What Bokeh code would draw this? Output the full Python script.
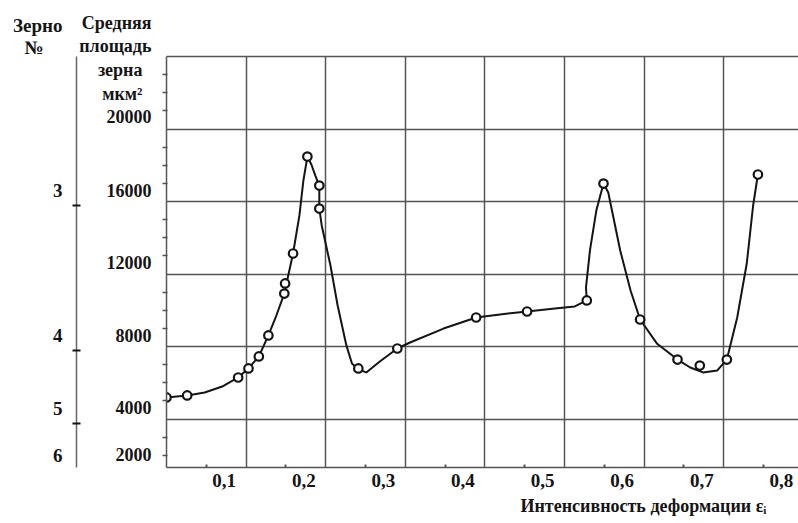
from bokeh.plotting import figure
from bokeh.models import Range1d, FixedTicker, LinearAxis, CustomJSTickFormatter, Title
from bokeh.embed import file_html
from bokeh.resources import INLINE

# ---- data ----
# measured points: strain intensity vs mean grain area (um^2)
strain_pts = [0.000, 0.026, 0.090, 0.103, 0.116, 0.128, 0.148, 0.149, 0.159, 0.177,
              0.192, 0.192, 0.241, 0.290, 0.389, 0.453, 0.528, 0.549, 0.595, 0.642,
              0.670, 0.704, 0.743]
area_pts = [5190, 5300, 6290, 6790, 7450, 8610, 10920, 11480, 13130, 18480,
            16880, 15610, 6790, 7890, 9600, 9930, 10540, 16990, 9490, 7280,
            6950, 7280, 17490]

# hand-drawn curve through the points
curve_strain = [0.000, 0.026, 0.048, 0.070, 0.090, 0.103, 0.116, 0.128, 0.138, 0.148,
                0.159, 0.167, 0.172, 0.177, 0.182, 0.187, 0.192, 0.192, 0.195, 0.206,
                0.215, 0.226, 0.233, 0.241, 0.251, 0.268, 0.290, 0.306, 0.348, 0.389,
                0.419, 0.453, 0.488, 0.513, 0.528, 0.527, 0.532, 0.540, 0.549, 0.555,
                0.570, 0.583, 0.595, 0.616, 0.642, 0.658, 0.674, 0.692, 0.704, 0.717,
                0.729, 0.737, 0.743]
curve_area = [5190, 5300, 5460, 5790, 6290, 6790, 7450, 8610, 9710, 10920,
              13130, 15230, 17160, 18480, 18040, 17430, 16880, 15610, 14680, 12470,
              10260, 8060, 7060, 6730, 6570, 7170, 7890, 8220, 8990, 9600,
              9770, 9930, 10100, 10210, 10540, 11260, 13300, 15500, 16990, 16500,
              13300, 11090, 9490, 8170, 7280, 6840, 6570, 6680, 7280, 9600,
              12580, 15780, 17490]

# axis ticks and labels
strain_ticks = [0.1, 0.2, 0.3, 0.4, 0.5, 0.6, 0.7, 0.8]
strain_tick_labels = ["0,1", "0,2", "0,3", "0,4", "0,5", "0,6", "0,7", "0,8"]
area_ticks = [2000, 4000, 8000, 12000, 16000, 20000]
area_tick_labels = ["2000", "4000", "8000", "12000", "16000", "20000"]
area_title_lines = ["Средняя", "площадь", "зерна", "мкм²"]
grain_numbers = ["3", "4", "5", "6"]
grain_areas = [16000, 8000, 4000, 2000]
grain_title_lines = ["Зерно", "№"]
x_title = "Интенсивность деформации εᵢ"

# ---- styling ----
FONT = "Liberation Serif"
INK = "#141414"
GRID = "#555555"
NB = "\u00a0"

# frame: x 166..798 px, y 56..467 px; 72.5 px per 4000 um^2
PX_PER_Y = 72.5 / 4000.0


def ay(py):
    return (491.0 - py) / PX_PER_Y


# printed labels sit a little above their grid lines in the original
shift = lambda a: a + (600 if a >= 4000 else 0)
area_label_pos = [shift(a) for a in area_ticks[:-1]]
area_labels = list(area_tick_labels[:-1])
# the top label carries the scale title stacked above it
area_label_pos.append(round(ay(69.5)))
area_labels.append("\n".join([area_title_lines[0], area_title_lines[1],
                              area_title_lines[2] + NB * 2, area_title_lines[3] + NB * 2,
                              area_tick_labels[-1]]))

strain_label_pos = [round(t - 0.0275, 4) for t in strain_ticks]

grain_label_pos = [shift(a) for a in grain_areas]
grain_mark_pos = [pos - 830 for pos in grain_label_pos[:3]]
grain_labels = list(grain_numbers)
grain_label_pos.append(round(ay(58)))
grain_labels.append("\n".join([grain_title_lines[0], grain_title_lines[1] + NB * 4, "", ""]))

NEAREST = """
let best = 0;
for (let i = 0; i < pos.length; i++) {
  if (Math.abs(pos[i] - tick) < Math.abs(pos[best] - tick)) best = i;
}
return labels[best];
"""

p = figure(width=798, height=523,
           x_range=Range1d(0, 0.794), y_range=Range1d(ay(467), ay(56)),
           output_backend="svg", toolbar_location=None,
           min_border_left=166, min_border_right=0,
           min_border_top=56, min_border_bottom=56)
p.outline_line_color = None
p.background_fill_color = "white"
p.border_fill_color = "white"

# grid
p.xgrid.ticker = FixedTicker(ticks=[t for t in strain_ticks if t < 0.79])
p.ygrid.ticker = FixedTicker(ticks=[a for a in area_ticks if a >= 4000])
p.grid.grid_line_color = GRID
p.grid.grid_line_width = 1.5

# x axis
xa = p.xaxis[0]
xa.ticker = FixedTicker(ticks=strain_label_pos,
                        minor_ticks=[round(t - 0.05, 2) for t in strain_ticks])
xa.formatter = CustomJSTickFormatter(args=dict(pos=strain_label_pos, labels=strain_tick_labels),
                                     code=NEAREST)
xa.major_tick_line_color = None
xa.major_tick_in = 0
xa.major_tick_out = 0
xa.minor_tick_in = 3
xa.minor_tick_out = 0
xa.minor_tick_line_color = GRID
xa.minor_tick_line_width = 2
xa.major_label_standoff = 6
xa.major_label_text_font_size = "19px"

# area axis
ya = p.yaxis[0]
ya.ticker = FixedTicker(ticks=area_label_pos,
                        minor_ticks=[v for v in range(2000, 24000, 1000) if v % 4000])
ya.formatter = CustomJSTickFormatter(args=dict(pos=area_label_pos, labels=area_labels),
                                     code=NEAREST)
ya.major_tick_line_color = None
ya.major_tick_in = 0
ya.major_tick_out = 0
ya.minor_tick_in = 1
ya.minor_tick_out = 4
ya.minor_tick_line_color = GRID
ya.minor_tick_line_width = 1.5
ya.major_label_standoff = 11
ya.major_label_text_font_size = "18px"
ya.major_label_text_line_height = 1.18

# grain number axis
gy = LinearAxis(ticker=FixedTicker(ticks=grain_label_pos, minor_ticks=grain_mark_pos),
                formatter=CustomJSTickFormatter(args=dict(pos=grain_label_pos, labels=grain_labels),
                                                code=NEAREST))
gy.axis_line_color = "#666666"
gy.axis_line_width = 1.5
gy.major_tick_line_color = None
gy.major_tick_in = 0
gy.major_tick_out = 0
gy.minor_tick_in = 4
gy.minor_tick_out = 4
gy.minor_tick_line_color = INK
gy.minor_tick_line_width = 2
gy.major_label_standoff = 10
gy.major_label_text_font_size = "19px"
gy.major_label_text_line_height = 1.05
p.add_layout(gy, "left")

for a in (xa, ya, gy):
    if a is not gy:
        a.axis_line_color = GRID
        a.axis_line_width = 1.5
    a.major_label_text_font = FONT
    a.major_label_text_font_style = "bold"
    a.major_label_text_color = INK

# top border line
top = LinearAxis(ticker=FixedTicker(ticks=[]), axis_line_color=GRID, axis_line_width=1.5,
                 major_tick_line_color=None, minor_tick_line_color=None,
                 major_label_text_font_size="0px")
p.add_layout(top, "above")

# x axis title
p.add_layout(Title(text=x_title, align="left", offset=354, standoff=8,
                   text_font=FONT, text_font_style="bold", text_font_size="18px",
                   text_color=INK), "below")

# curve and points
p.line(curve_strain, curve_area, line_color=INK, line_width=2)
p.scatter(strain_pts, area_pts, marker="circle", size=8.5, fill_color="white",
          line_color=INK, line_width=2.2)

open("out.html", "w").write(file_html(p, INLINE))
